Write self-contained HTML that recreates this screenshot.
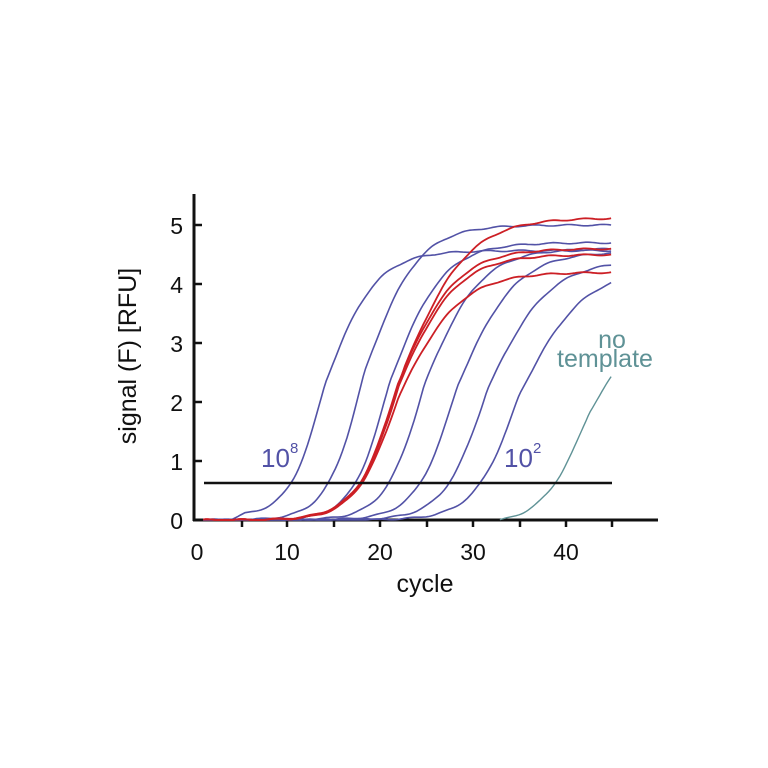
<!DOCTYPE html>
<html><head><style>
body{margin:0;background:#fff;}
svg{display:block;font-family:"Liberation Sans",sans-serif;}
</style></head><body>
<svg id="s" width="768" height="768" viewBox="0 0 768 768">
<g stroke="#111" stroke-width="3" fill="none">
<line x1="194" y1="194" x2="194" y2="521"/>
<line x1="193" y1="520" x2="658" y2="520"/>
</g>
<g stroke="#111" stroke-width="2.5">
<line x1="194" y1="225" x2="202" y2="225"/>
<line x1="194" y1="284" x2="202" y2="284"/>
<line x1="194" y1="343" x2="202" y2="343"/>
<line x1="194" y1="402" x2="202" y2="402"/>
<line x1="194" y1="461" x2="202" y2="461"/>
<line x1="242" y1="520" x2="242" y2="527"/>
<line x1="287" y1="520" x2="287" y2="527"/>
<line x1="334" y1="520" x2="334" y2="527"/>
<line x1="380" y1="520" x2="380" y2="527"/>
<line x1="427" y1="520" x2="427" y2="527"/>
<line x1="473" y1="520" x2="473" y2="527"/>
<line x1="520" y1="520" x2="520" y2="527"/>
<line x1="566" y1="520" x2="566" y2="527"/>
<line x1="612" y1="520" x2="612" y2="527"/>
</g>
<g font-size="23" fill="#111" text-anchor="end">
<text x="183" y="234">5</text><text x="183" y="293">4</text><text x="183" y="352">3</text>
<text x="183" y="411">2</text><text x="183" y="470">1</text><text x="183" y="529">0</text>
</g>
<g font-size="23" fill="#111" text-anchor="middle">
<text x="197" y="560">0</text><text x="287" y="560">10</text><text x="380" y="560">20</text>
<text x="473" y="560">30</text><text x="566" y="560">40</text>
<text x="425" y="592" font-size="25">cycle</text>
<text transform="translate(136,356) rotate(-90)" font-size="25">signal (F) [RFU]</text>
</g>
<g id="curves" fill="none" stroke-width="1.6"></g>
<line x1="204" y1="483" x2="612" y2="483" stroke="#111" stroke-width="2.5"/>
<g font-size="26" fill="#5252a6">
<text x="261" y="467">10</text><text x="290" y="453" font-size="15">8</text>
<text x="504" y="467">10</text><text x="533" y="453" font-size="15">2</text>
</g>
<g font-size="25" fill="#5f9296" text-anchor="middle">
<text x="612" y="348">no</text><text x="605" y="367">template</text>
</g>
</svg>
<script>
var g=document.getElementById('curves');
function X(c){return 194+c*9.27;}function Y(v){return 520-v*59;}
function f(c,m,s,P){var ss=c>m?s*1.45:s;return P/(1+Math.exp(-(c-m)/ss));}
function curve(ct,P,s,col,w,start,bump){
 var m=ct+s*Math.log(P/0.63-1),pts=[];
 var b0=f(start,m,s,P);
 for(var c=start;c<=45.01;c+=0.25){
  var v=f(c,m,s,P)-b0;
  if(bump&&c>4)v+=0.07*Math.min(1,(c-4)/1.5);
  v+=0.012*Math.sin(c*1.7+ct);
  if(v<0)v=0;
  pts.push(X(c).toFixed(1)+','+Y(v).toFixed(1));
 }
 var p=document.createElementNS('http://www.w3.org/2000/svg','polyline');
 p.setAttribute('points',pts.join(' '));p.setAttribute('stroke',col);p.setAttribute('stroke-width',w);
 g.appendChild(p);
}
var B='#5252a6',R='#cc1f25';
curve(10.7,4.5,1.9,B,1.6,1,1);
curve(14.5,5.0,2.0,B,1.6,1);
curve(17.4,4.7,2.0,B,1.6,1);
curve(21.0,4.6,2.1,B,1.6,1);
curve(24.4,4.55,2.2,B,1.6,1);
curve(27.5,4.4,2.3,B,1.6,1);
curve(30.9,4.25,2.4,B,1.6,1);
curve(17.9,5.12,2.4,R,1.8,1);
curve(17.9,4.6,2.2,R,1.8,1);
curve(18.0,4.5,2.2,R,1.8,1);
curve(18.1,4.2,2.3,R,1.8,1);
curve(38.6,3.8,2.5,'#5f9296',1.4,33);
</script>
</body></html>
